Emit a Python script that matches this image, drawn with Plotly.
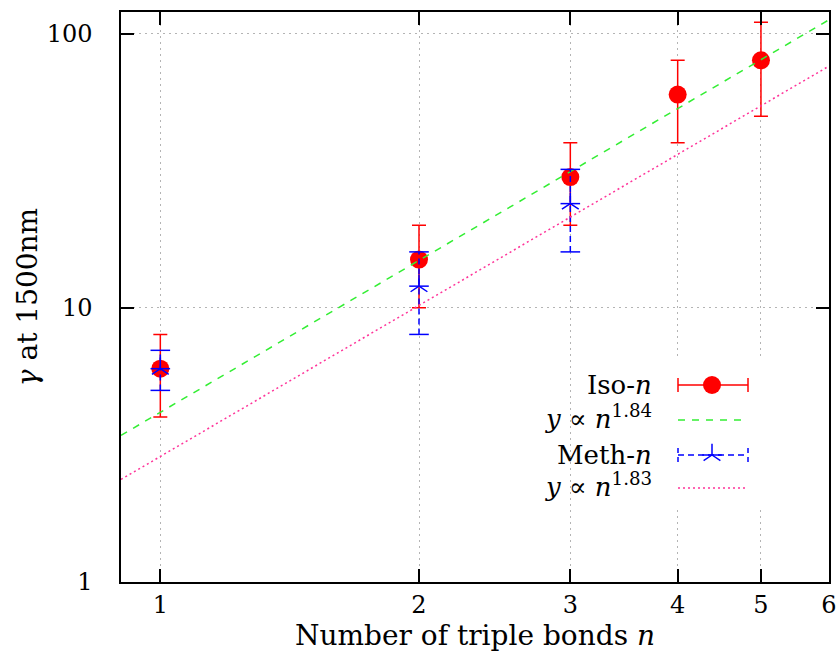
import math
import plotly.graph_objects as go

# ---- data ----
n_iso = [1, 2, 3, 4, 5]
gamma_iso = [6, 15, 30, 60, 80]
iso_lo = [4, 10, 20, 40, 50]
iso_hi = [8, 20, 40, 80, 110]

n_meth = [1, 2, 3]
gamma_meth = [6, 12, 24]
meth_lo = [5, 8, 16]
meth_hi = [7, 16, 32]

# power-law fits  y = A * n^p
fit_iso_A, fit_iso_p = 4.16, 1.84
fit_meth_A, fit_meth_p = 2.87, 1.83

x_range = [0.9, 6]
y_range = [1, 120]
x_ticks = [1, 2, 3, 4, 5, 6]
y_ticks = [1, 10, 100]

FONT = "DejaVu Serif"
RED = "#ff0000"
GREEN = "#33ee33"
BLUE = "#0000ff"
PINK = "#ff3399"

L, R, T, B = 121, 11, 12, 71
W, H = 840, 653
pw, ph = W - L - R, H - T - B

fig = go.Figure()

# Iso-n with error bars
fig.add_trace(go.Scatter(
    x=n_iso, y=gamma_iso, mode="markers",
    marker=dict(symbol="circle", size=18, color=RED),
    error_y=dict(type="data", symmetric=False,
                 array=[h - v for h, v in zip(iso_hi, gamma_iso)],
                 arrayminus=[v - l for l, v in zip(iso_lo, gamma_iso)],
                 color=RED, thickness=1.5, width=7),
    showlegend=False))

# fit line for Iso-n
fit_n = x_range
fig.add_trace(go.Scatter(
    x=fit_n, y=[fit_iso_A * v ** fit_iso_p for v in fit_n], mode="lines",
    line=dict(color=GREEN, width=1.5, dash="7px,7px"), showlegend=False))

# Meth-n dashed error bars
ex, ey = [], []
for n, lo, hi in zip(n_meth, meth_lo, meth_hi):
    ex += [n, n, None]
    ey += [lo, hi, None]
fig.add_trace(go.Scatter(x=ex, y=ey, mode="lines",
                         line=dict(color=BLUE, width=1.5, dash="6px,4px"),
                         showlegend=False))
fig.add_trace(go.Scatter(x=n_meth + n_meth, y=meth_lo + meth_hi, mode="markers",
                         marker=dict(symbol="line-ew-open", size=14, color=BLUE,
                                     line=dict(color=BLUE, width=1.5)),
                         showlegend=False))
for sym in ["y-up-open", "line-ew-open"]:
    fig.add_trace(go.Scatter(x=n_meth, y=gamma_meth, mode="markers",
                             marker=dict(symbol=sym, size=14, color=BLUE,
                                         line=dict(color=BLUE, width=1.5)),
                             showlegend=False))

# fit line for Meth-n
fig.add_trace(go.Scatter(
    x=fit_n, y=[fit_meth_A * v ** fit_meth_p for v in fit_n], mode="lines",
    line=dict(color=PINK, width=1.5, dash="2px,3px"), showlegend=False))

# ---- key (gnuplot style: text left, sample right) on helper axes ----
kx0, kx1, kxm = 678, 748, 712
rows = [385, 420, 455, 488]
kw = dict(xaxis="x2", yaxis="y2", showlegend=False, hoverinfo="skip")
fig.add_trace(go.Scatter(x=[kx0, kx1], y=[rows[0]] * 2, mode="lines",
                         line=dict(color=RED, width=1.5), **kw))
fig.add_trace(go.Scatter(x=[kx0, kx0, None, kx1, kx1],
                         y=[rows[0] - 7, rows[0] + 7, None, rows[0] - 7, rows[0] + 7],
                         mode="lines", line=dict(color=RED, width=1.5), **kw))
fig.add_trace(go.Scatter(x=[kxm], y=[rows[0]], mode="markers",
                         marker=dict(symbol="circle", size=18, color=RED), **kw))
fig.add_trace(go.Scatter(x=[kx0, kx1], y=[rows[1]] * 2, mode="lines",
                         line=dict(color=GREEN, width=1.5, dash="7px,7px"), **kw))
fig.add_trace(go.Scatter(x=[kx0, kx1], y=[rows[2]] * 2, mode="lines",
                         line=dict(color=BLUE, width=1.5, dash="6px,4px"), **kw))
fig.add_trace(go.Scatter(x=[kx0, kx0, None, kx1, kx1],
                         y=[rows[2] - 7, rows[2] + 7, None, rows[2] - 7, rows[2] + 7],
                         mode="lines", line=dict(color=BLUE, width=1.5, dash="5px,4px"), **kw))
for sym in ["y-up-open", "line-ew-open"]:
    fig.add_trace(go.Scatter(x=[kxm], y=[rows[2]], mode="markers",
                             marker=dict(symbol=sym, size=14, color=BLUE,
                                         line=dict(color=BLUE, width=1.5)), **kw))
fig.add_trace(go.Scatter(x=[kx0, kx1], y=[rows[3]] * 2, mode="lines",
                         line=dict(color=PINK, width=1.5, dash="2px,3px"), **kw))

key_labels = ["Iso-<i>n</i>", "<i>y</i> ∝ <i>n</i><sup>1.84</sup>",
              "Meth-<i>n</i>", "<i>y</i> ∝ <i>n</i><sup>1.83</sup>"]
key_offsets = [0, -3, 0, -3]
annotations = []
for lab, r, off in zip(key_labels, rows, key_offsets):
    annotations.append(dict(text=lab, xref="paper", yref="paper",
                            x=(654 - L) / pw, y=(H - B - (r + off)) / ph,
                            xanchor="right", yanchor="middle", showarrow=False,
                            font=dict(family=FONT, size=26, color="black")))

axis_common = dict(
    type="log", showline=True, linecolor="black", linewidth=1.5, mirror="ticks",
    ticks="inside", ticklen=13, tickwidth=1.5, tickcolor="black",
    showgrid=True, gridcolor="#b4b4b4", gridwidth=1, griddash="2px,4px",
    tickfont=dict(family=FONT, size=24, color="black"), zeroline=False,
    automargin=False,
)

x2d = [(660 - L) / pw, (770 - L) / pw]
y2d = [(H - B - 510) / ph, (H - B - 360) / ph]

fig.update_layout(
    width=W, height=H, margin=dict(l=L, r=R, t=T, b=B, autoexpand=False),
    plot_bgcolor="white", paper_bgcolor="white",
    font=dict(family=FONT, size=24, color="black"),
    xaxis=dict(axis_common, range=[math.log10(x_range[0]), math.log10(x_range[1])],
               tickvals=x_ticks, ticktext=[str(v) for v in x_ticks],
               title=dict(text="Number of triple bonds <i>n</i>", standoff=4,
                          font=dict(family=FONT, size=28))),
    yaxis=dict(axis_common, range=[math.log10(y_range[0]), math.log10(y_range[1])],
               tickvals=y_ticks, ticktext=[str(v) for v in y_ticks],
               ticklabelstandoff=22,
               title=dict(text="<i>γ</i> at 1500nm", standoff=1,
                          font=dict(family=FONT, size=28))),
    xaxis2=dict(domain=x2d, range=[660, 770], visible=False, fixedrange=True,
                anchor="y2"),
    yaxis2=dict(domain=y2d, range=[510, 360], visible=False, fixedrange=True,
                anchor="x2"),
    annotations=annotations,
)

fig.write_html("out.html")
